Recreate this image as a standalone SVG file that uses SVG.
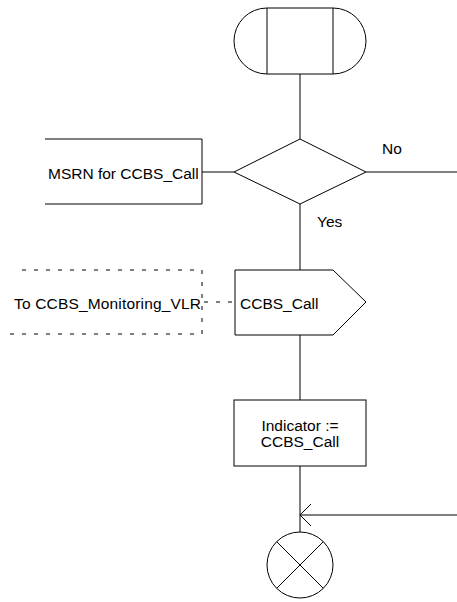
<svg xmlns="http://www.w3.org/2000/svg" width="457" height="602" viewBox="0 0 457 602">
<style>
.s{fill:#fff;stroke:#000;stroke-width:1}
.l{fill:none;stroke:#000;stroke-width:1}
.d{fill:none;stroke:#000;stroke-width:1;stroke-dasharray:4,8}
text{font-family:"Liberation Sans",Arial,sans-serif;font-size:15.5px;fill:#000}
</style>
<rect width="457" height="602" fill="#fff"/>
<g id="connectors">
<line class="l" x1="300" y1="74" x2="300" y2="139"/>
<line class="l" x1="202" y1="172" x2="234" y2="172"/>
<line class="l" x1="366" y1="172" x2="457" y2="172"/>
<line class="l" x1="300" y1="204" x2="300" y2="270"/>
<line class="d" x1="204" y1="302" x2="235" y2="302"/>
<line class="l" x1="300" y1="335" x2="300" y2="400"/>
<line class="l" x1="300" y1="466" x2="300" y2="532"/>
<line class="l" x1="457" y1="515" x2="300" y2="515"/>
<polyline class="l" points="311,504 300,515 311,526"/>
<text x="382" y="154">No</text>
<text x="317" y="227">Yes</text>
</g>
<g id="start">
<path class="s" d="M267,8 H333 A33,33 0 0 1 333,74 H267 A33,33 0 0 1 267,8 Z"/>
<line class="l" x1="267" y1="8" x2="267" y2="74"/>
<line class="l" x1="333" y1="8" x2="333" y2="74"/>
</g>
<g id="decision">
<polygon class="s" points="300,139 366,172 300,204 234,172"/>
</g>
<g id="msrn">
<polyline class="l" points="45,139 202,139 202,204 45,204"/>
<text x="48" y="179">MSRN for CCBS_Call</text>
</g>
<g id="comment">
<polyline class="d" points="22,270 202,270 202,334 10,334"/>
<text x="14" y="309" textLength="187" lengthAdjust="spacing">To CCBS_Monitoring_VLR</text>
</g>
<g id="signal">
<polygon class="s" points="235,270 333,270 366,302 333,335 235,335"/>
<text x="240" y="309">CCBS_Call</text>
</g>
<g id="task">
<rect class="s" x="234" y="400" width="132" height="66"/>
<text x="300" y="431" text-anchor="middle">Indicator :=</text>
<text x="300" y="447" text-anchor="middle">CCBS_Call</text>
</g>
<g id="join">
<circle class="s" cx="300" cy="565" r="33"/>
<line class="l" x1="276.7" y1="541.7" x2="323.3" y2="588.3"/>
<line class="l" x1="323.3" y1="541.7" x2="276.7" y2="588.3"/>
</g>
</svg>
